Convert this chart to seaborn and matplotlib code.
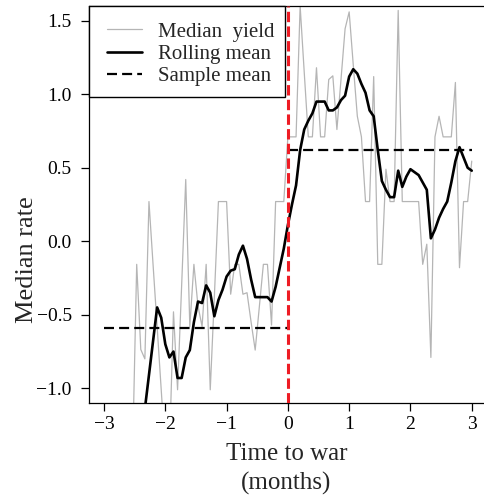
import numpy as np
import pandas as pd
import matplotlib
matplotlib.use("Agg")
import matplotlib.pyplot as plt
from matplotlib.lines import Line2D
from matplotlib.patches import Rectangle
import seaborn as sns

# ---- data ----
time_to_war = np.linspace(-3, 3, 91)  # months, regular sampling

median_yield = [
    -1.87, -1.44, -2.30, -1.44, -1.87, -1.44, -2.30, -1.44, -0.157, -0.736,
    -0.80, 0.27, -0.157, -0.58, -1.01, -1.44, -1.44, -0.48, -1.01, -0.30,
    0.42, -0.58, -0.157, -0.44, -0.58, -0.157, -1.01, -0.38, 0.27, 0.27,
    0.27, -0.36, -0.157, -0.157, -0.36, -0.35, -0.55, -0.74, -0.45, -0.157,
    -0.157, -0.57, 0.27, 0.27, 0.27, 0.71, 0.71, 0.71, 1.60, 1.15,
    0.71, 0.71, 1.18, 0.71, 0.71, 1.10, 1.125, 0.76, 1.10, 1.445,
    1.56, 1.20, 0.85, 0.71, 0.27, 0.27, 1.12, -0.157, -0.157, 0.49,
    0.27, 0.27, 1.57, 0.27, 0.27, 0.27, 0.27, 0.27, -0.157, -0.02,
    -0.79, 0.71, 0.85, 0.71, 0.71, 0.71, 1.08, -0.18, 0.27, 0.27,
    0.545,
]

rolling_mean = [
    np.nan, np.nan, np.nan, np.nan, np.nan, np.nan, np.nan, np.nan, -1.55, -1.37,
    -1.14, -0.91, -0.68, -0.45, -0.52, -0.70, -0.79, -0.75, -0.93, -0.93,
    -0.79, -0.74, -0.55, -0.41, -0.42, -0.30, -0.35, -0.51, -0.40, -0.33,
    -0.24, -0.20, -0.19, -0.09, -0.03, -0.12, -0.26, -0.38, -0.38, -0.38,
    -0.38, -0.41, -0.31, -0.18, -0.05, 0.11, 0.25, 0.38, 0.62, 0.76,
    0.82, 0.87, 0.95, 0.95, 0.95, 0.89, 0.89, 0.91, 0.96, 0.99,
    1.12, 1.17, 1.14, 1.07, 1.01, 0.89, 0.85, 0.62, 0.41, 0.35,
    0.30, 0.30, 0.48, 0.37, 0.44, 0.49, 0.47, 0.45, 0.40, 0.35,
    0.02, 0.08, 0.16, 0.22, 0.27, 0.40, 0.545, 0.64, 0.57, 0.50,
    0.48,
]

mean_before = -0.59
mean_after = 0.62
period_start = [-3.0, 0.0]
period_end = [0.0, 3.0]
period_mean = [mean_before, mean_after]

legend_labels = ["Median  yield", "Rolling mean", "Sample mean"]
xtick_values = [-3, -2, -1, 0, 1, 2, 3]
xtick_labels = ["\u22123", "\u22122", "\u22121", "0", "1", "2", "3"]
ytick_values = [-1.0, -0.5, 0.0, 0.5, 1.0, 1.5]
ytick_labels = ["\u22121.0", "\u22120.5", "0.0", "0.5", "1.0", "1.5"]

# ---- styling ----
sns.set_style("ticks")
plt.rcParams["font.family"] = ["Liberation Serif", "DejaVu Serif"]
plt.rcParams["axes.edgecolor"] = "black"
plt.rcParams["axes.linewidth"] = 0.9

GRAY = "#b5b5b5"
RED = "#ee1c24"
DASH = (0, (4.5, 2.3))
W, H = 484, 498

fig = plt.figure(figsize=(W / 100, H / 100), dpi=100)
ax = fig.add_axes([89 / W, 1 - 403 / H, 1 - 89 / W, (403 - 6) / H])

df = pd.DataFrame({"t": time_to_war, "yield": median_yield, "roll": rolling_mean})

sns.lineplot(data=df, x="t", y="yield", estimator=None, color=GRAY, lw=0.9, ax=ax)
sns.lineplot(data=df.dropna(), x="t", y="roll", estimator=None, color="black", lw=1.9, ax=ax)

seg = pd.DataFrame({
    "t": [period_start[0], period_end[0], period_start[1], period_end[1]],
    "m": [period_mean[0], period_mean[0], period_mean[1], period_mean[1]],
    "seg": [0, 0, 1, 1],
})
sns.lineplot(data=seg, x="t", y="m", units="seg", estimator=None, color="black",
             lw=1.6, linestyle=DASH, ax=ax)

ax.axvline(0, color=RED, lw=2.2, linestyle=(0, (3.4, 1.4)), zorder=3)

ax.set_xlim(-3.245, 3.2)
ax.set_ylim(-1.1, 1.6)
ax.set_xticks(xtick_values)
ax.set_xticklabels(xtick_labels)
ax.set_yticks(ytick_values)
ax.set_yticklabels(ytick_labels)
ax.tick_params(axis="both", direction="out", length=5.5, width=0.9, labelsize=14,
               colors="black")
ax.tick_params(axis="x", pad=4)
ax.tick_params(axis="y", pad=7)

ax.spines["right"].set_visible(False)
for s in ["left", "bottom", "top"]:
    ax.spines[s].set_visible(True)
    ax.spines[s].set_color("black")

ax.set_xlabel("Time to war\n(months)", fontsize=18, labelpad=7, linespacing=1.4)
ax.set_ylabel("Median rate", fontsize=19, va="center")
ax.yaxis.set_label_coords((27 - 89) / 395, (403 - 260) / 397)

# legend box (frame drawn separately to match the reference geometry)
frame = Rectangle((89 / W, 1 - 97 / H), (285 - 89) / W, (97 - 6) / H,
                  transform=fig.transFigure, facecolor="white", edgecolor="black",
                  lw=1.0, zorder=4, clip_on=False)
ax.add_patch(frame)

handles = [
    Line2D([], [], color=GRAY, lw=0.9),
    Line2D([], [], color="black", lw=1.9),
    Line2D([], [], color="black", lw=1.6, linestyle=DASH),
]
leg = ax.legend(handles, legend_labels, loc="upper left",
                bbox_to_anchor=(107 / W, 1 - 22 / H), bbox_transform=fig.transFigure,
                borderaxespad=0, frameon=False, fontsize=15, handlelength=1.7,
                handletextpad=0.75, borderpad=0, labelspacing=0.13)
leg.set_zorder(5)

fig.savefig("out.png", dpi=100)
